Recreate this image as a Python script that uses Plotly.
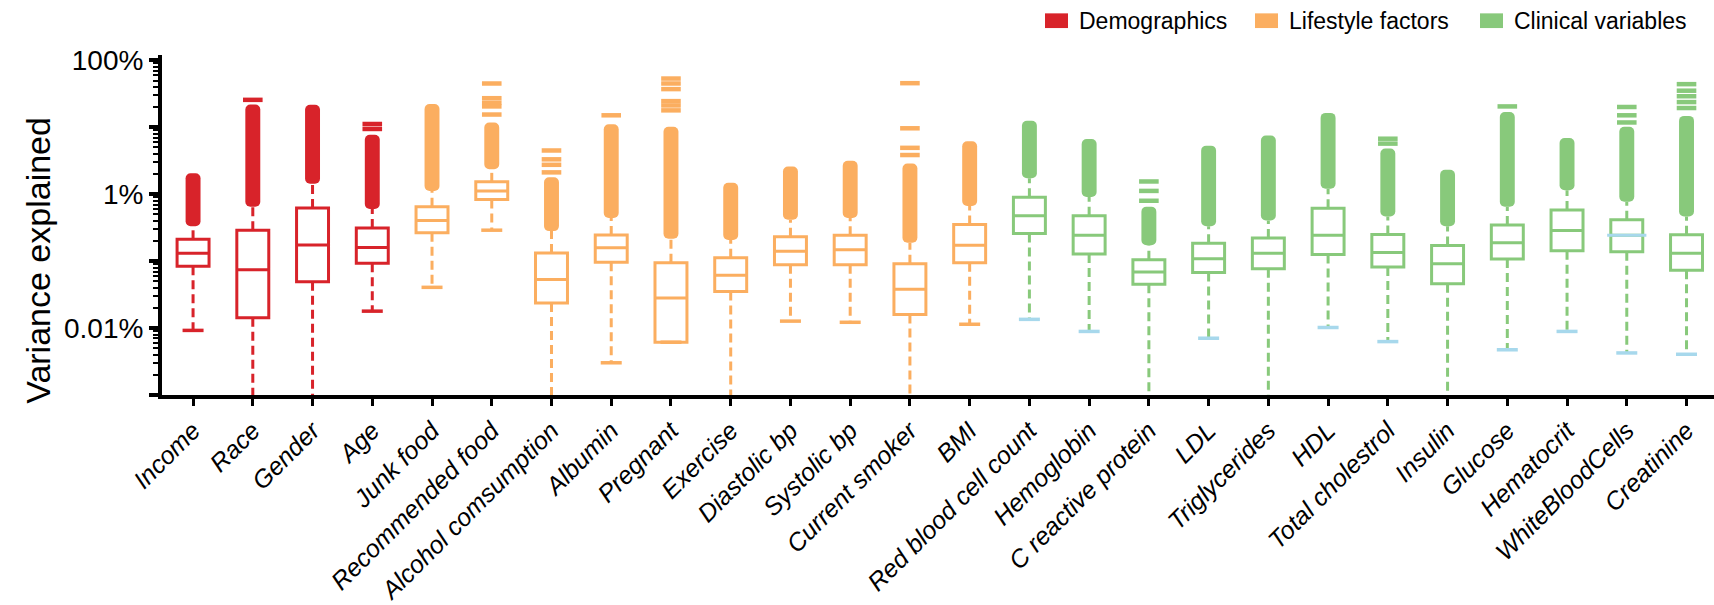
import plotly.graph_objects as go

# Variance explained (%) per variable: box statistics, whisker ends and outlier ranges
categories = [
    "Income", "Race", "Gender", "Age",
    "Junk food", "Recommended food", "Alcohol comsumption", "Albumin", "Pregnant",
    "Exercise", "Diastolic bp", "Systolic bp", "Current smoker", "BMI",
    "Red blood cell count", "Hemoglobin", "C reactive protein", "LDL", "Triglycerides",
    "HDL", "Total cholestrol", "Insulin", "Glucose", "Hematocrit", "WhiteBloodCells",
    "Creatinine",
]
groups = (["Demographics"] * 4 + ["Lifestyle factors"] * 10 + ["Clinical variables"] * 12)

q1 = [0.0841, 0.0143, 0.0491, 0.0931, 0.265, 0.834, 0.0237, 0.0964, 0.00615, 0.0352,
      0.0883, 0.0883, 0.0160, 0.0944, 0.259, 0.128, 0.0450, 0.0675, 0.0771, 0.126,
      0.0815, 0.0459, 0.108, 0.143, 0.138, 0.0728]
median = [0.131, 0.0746, 0.175, 0.160, 0.406, 1.12, 0.0532, 0.158, 0.0281, 0.0617,
          0.140, 0.148, 0.0379, 0.173, 0.476, 0.243, 0.0689, 0.109, 0.131, 0.243,
          0.135, 0.0912, 0.189, 0.287, 0.243, 0.131]
q3 = [0.212, 0.290, 0.624, 0.313, 0.652, 1.53, 0.132, 0.245, 0.0944, 0.112,
      0.232, 0.243, 0.0912, 0.352, 0.904, 0.476, 0.105, 0.185, 0.222, 0.615,
      0.251, 0.171, 0.347, 0.583, 0.416, 0.248]
whisker_low = [0.00923, 0.00001, 0.00001, 0.0179, 0.0406, 0.290, 0.00001, 0.00303, 0.00615, 0.00001,
               0.0127, 0.0122, 0.00001, 0.0114, 0.0135, 0.00891, 0.00001, 0.00705, 0.00001, 0.0102,
               0.00628, 0.00001, 0.00474, 0.00891, 0.00425, 0.00406]
outlier_low = [0.332, 0.652, 1.43, 0.603, 1.12, 2.37, 0.281, 0.440, 0.216, 0.207,
               0.416, 0.440, 0.189, 0.667, 1.73, 0.912, 0.173, 0.332, 0.406, 1.21,
               0.466, 0.332, 0.652, 1.15, 0.771, 0.466]
outlier_high = [2.05, 21.9, 21.7, 7.71, 22.2, 11.8, 1.79, 11.1, 10.2, 1.48,
                2.59, 3.15, 2.87, 6.18, 12.5, 6.67, 0.652, 5.32, 7.55, 16.4,
                4.81, 2.32, 16.9, 6.90, 10.2, 14.8]

# Isolated extreme outliers above the dense outlier columns
sparse_cat = (["Race"] + ["Age"] * 2 + ["Recommended food"] * 5 + ["Alcohol comsumption"] * 4
              + ["Albumin"] + ["Pregnant"] * 6 + ["Current smoker"] * 4
              + ["C reactive protein"] * 3 + ["Total cholestrol"] * 2 + ["Glucose"]
              + ["WhiteBloodCells"] * 3 + ["Creatinine"] * 5)
sparse_val = ([25.7] + [11.2, 9.44] + [45.1, 27.2, 23.2, 20.5, 15.5] + [4.50, 3.32, 2.75, 2.12]
              + [15.1] + [53.5, 45.1, 37.2, 24.6, 21.2, 17.9] + [45.6, 9.66, 4.93, 3.85]
              + [1.55, 1.12, 0.798] + [6.75, 5.70] + [20.5]
              + [20.1, 15.1, 11.8] + [44.1, 35.2, 29.1, 23.8, 19.4])

group_names = ["Demographics", "Lifestyle factors", "Clinical variables"]
colors = {"Demographics": "#d8232a", "Lifestyle factors": "#fbae60", "Clinical variables": "#88c97b"}
cap_colors = {"Demographics": "#d8232a", "Lifestyle factors": "#fbae60", "Clinical variables": "#a7d8ec"}
highlight_median = {"WhiteBloodCells": "#a7d8ec"}

FONT = "Arial, Liberation Sans, Helvetica, sans-serif"
BOX_W = 0.535

# plot-area geometry in pixels (used to place the legend swatches and labels)
W, H = 1714, 605
M_L, M_R, M_T, M_B = 162, 0, 55, 203
PW, PH = W - M_L - M_R, H - M_T - M_B


def px_x(px):
    return (px - M_L) / PW


def px_y(py):
    return (H - M_B - py) / PH


fig = go.Figure()

for g in group_names:
    idx = [i for i, gg in enumerate(groups) if gg == g]
    c = colors[g]
    cats = [categories[i] for i in idx]

    # dashed whiskers
    wx, wy = [], []
    for i in idx:
        wx += [categories[i], categories[i], None, categories[i], categories[i], None]
        wy += [q1[i], whisker_low[i], None, q3[i], outlier_low[i], None]
    fig.add_trace(go.Scatter(
        x=wx, y=wy, mode="lines", showlegend=False, hoverinfo="skip",
        line=dict(color=c, width=3, dash="9px,5px"),
    ))

    # dense outlier columns
    fig.add_trace(go.Bar(
        x=cats,
        base=[outlier_low[i] for i in idx],
        y=[outlier_high[i] - outlier_low[i] for i in idx],
        width=0.25, showlegend=False, hoverinfo="skip",
        marker=dict(color=c, line=dict(width=0), cornerradius=5),
    ))

    # boxes
    fig.add_trace(go.Box(
        x=cats,
        q1=[q1[i] for i in idx],
        median=[median[i] for i in idx],
        q3=[q3[i] for i in idx],
        lowerfence=[q1[i] for i in idx],
        upperfence=[q3[i] for i in idx],
        width=BOX_W, boxpoints=False, showlegend=False, hoverinfo="skip",
        fillcolor="white", line=dict(color=c, width=3),
    ))

    # whisker caps
    fig.add_trace(go.Scatter(
        x=cats, y=[whisker_low[i] for i in idx], mode="markers",
        showlegend=False, hoverinfo="skip",
        marker=dict(symbol="line-ew", size=15, line=dict(width=3.5, color=cap_colors[g])),
    ))

    # isolated outliers
    sx = [sc for sc in sparse_cat if groups[categories.index(sc)] == g]
    sy = [sv for sc, sv in zip(sparse_cat, sparse_val) if groups[categories.index(sc)] == g]
    if sx:
        fig.add_trace(go.Scatter(
            x=sx, y=sy, mode="markers", showlegend=False, hoverinfo="skip",
            marker=dict(symbol="line-ew", size=14, line=dict(width=4.5, color=c)),
        ))

# recoloured median line
for name, col in highlight_median.items():
    i = categories.index(name)
    fig.add_trace(go.Scatter(
        x=[name], y=[median[i]], mode="markers", showlegend=False, hoverinfo="skip",
        marker=dict(symbol="line-ew", size=28, line=dict(width=3, color=col)),
    ))

# legend: colour swatches with labels across the top right
legend_swatch_left = [1045, 1255, 1480]
shapes, annotations = [], []
for g, left in zip(group_names, legend_swatch_left):
    shapes.append(dict(
        type="rect", xref="paper", yref="paper",
        x0=px_x(left), x1=px_x(left + 23), y0=px_y(27.5), y1=px_y(12.5),
        fillcolor=colors[g], line=dict(width=0), layer="above",
    ))
    annotations.append(dict(
        text=g, xref="paper", yref="paper", x=px_x(left + 32), y=px_y(20),
        xanchor="left", yanchor="middle", showarrow=False,
        font=dict(size=23, family=FONT, color="black"),
    ))

# y-axis title
annotations.append(dict(
    text="Variance explained", xref="paper", yref="paper",
    x=px_x(38), y=px_y(265), xanchor="center", yanchor="middle",
    textangle=-90, showarrow=False, font=dict(size=34, family=FONT, color="black"),
))

major = [0.001, 0.01, 0.1, 1, 10, 100]
major_text = ["", "0.01%", "", "1%", "", "100%"]
minor = [k * m for m in major[:-1] for k in range(2, 10)]

fig.update_layout(
    width=W, height=H,
    margin=dict(l=M_L, r=M_R, t=M_T, b=M_B),
    paper_bgcolor="white", plot_bgcolor="white",
    font=dict(family=FONT, color="black"),
    boxmode="overlay", barmode="overlay",
    showlegend=False,
    shapes=shapes, annotations=annotations,
    xaxis=dict(
        type="category", categoryorder="array", categoryarray=categories,
        range=[-0.52, 25.46],
        showline=True, linewidth=4, linecolor="black",
        ticks="outside", ticklen=7, tickwidth=3, tickcolor="black",
        tickangle=-45,
        tickfont=dict(size=25, family=FONT, color="black", style="italic"),
        showgrid=False, zeroline=False,
    ),
    yaxis=dict(
        type="log", range=[-3, 2.08],
        tickvals=major, ticktext=major_text,
        showline=True, linewidth=4, linecolor="black",
        ticks="outside", ticklen=9, tickwidth=3.5, tickcolor="black",
        ticklabelstandoff=0,
        minor=dict(tickvals=minor, ticks="outside", ticklen=5, tickwidth=2, tickcolor="black"),
        tickfont=dict(size=28, family=FONT, color="black"),
        showgrid=False, zeroline=False,
    ),
)

fig.write_html("out.html")
